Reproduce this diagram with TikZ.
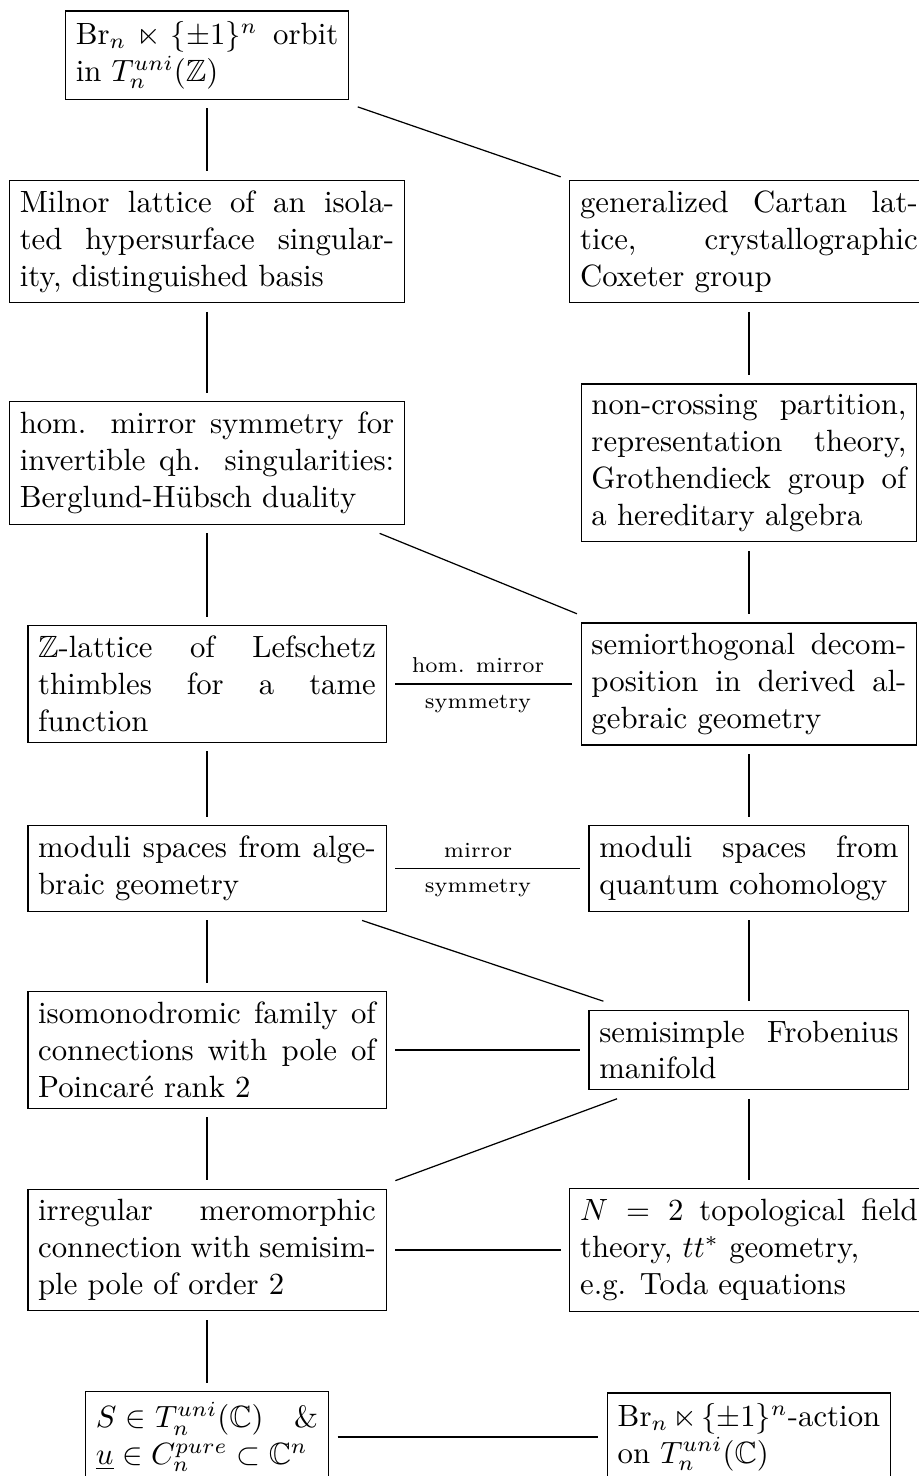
\documentclass[tikz,border=0pt]{standalone}
\usepackage{amsmath}
\usepackage{amssymb}
\usepackage{tikz}
\usetikzlibrary{calc}

\begin{document}
\begin{tikzpicture}[box/.style={draw, align=justify, outer sep=3pt, text width=#1},
	lbl/.style={font=\scriptsize}]
\useasboundingbox (0,0) rectangle (10.503,-16.869);

\node[box=3cm] (orbit) at (2.366,-0.629) {$\mathrm{Br}_n\ltimes\{\pm 1\}^n$ orbit\linebreak in $T_n^{uni}(\mathbb{Z})$};

\node[box=4.28cm] (milnor) at (2.366,-2.76) {Milnor lattice of an isola-\linebreak ted hypersurface singular-\linebreak ity, distinguished basis};
\node[box=3.86cm] (cartan) at (8.56,-2.76) {generalized Cartan lat-\linebreak tice, crystallographic\linebreak Coxeter group};

\node[box=4.28cm] (hms) at (2.366,-5.291) {hom. mirror symmetry for\linebreak invertible qh. singularities:\linebreak Berglund-H\"ubsch duality};
\node[box=3.6cm] (noncross) at (8.56,-5.291) {non-crossing partition,\linebreak representation theory,\linebreak Grothendieck group of\linebreak a hereditary algebra};

\node[box=3.86cm] (lefschetz) at (2.366,-7.817) {$\mathbb{Z}$-lattice of Lefschetz\linebreak thimbles for a tame\linebreak function};
\node[box=3.6cm] (semiorth) at (8.56,-7.817) {semiorthogonal decom-\linebreak position in derived al-\linebreak gebraic geometry};

\node[box=3.86cm] (modalg) at (2.366,-9.926) {moduli spaces from alge-\linebreak braic geometry};
\node[box=3.42cm] (modqc) at (8.56,-9.926) {moduli spaces from\linebreak quantum cohomology};

\node[box=3.86cm] (isomon) at (2.366,-12) {isomonodromic family of\linebreak connections with pole of\linebreak Poincar\'e rank 2};
\node[box=3.42cm] (frob) at (8.56,-12) {semisimple Frobenius\linebreak manifold};

\node[box=3.86cm] (irreg) at (2.366,-14.286) {irregular meromorphic\linebreak connection with semisim-\linebreak ple pole of order 2};
\node[box=3.86cm] (tt) at (8.56,-14.286) {$N=2$ topological field\linebreak theory, $tt^*$ geometry,\newline e.g. Toda equations};

\node[box=2.54cm] (stokes) at (2.366,-16.423) {$S\in T_n^{uni}(\mathbb{C})$\quad \&\linebreak $\underline{u}\in C_n^{pure}\subset\mathbb{C}^n$};
\node[box=3cm] (action) at (8.56,-16.423) {$\mathrm{Br}_n\ltimes\{\pm 1\}^n$-action\newline on $T_n^{uni}(\mathbb{C})$};

\draw (orbit) -- (milnor);
\draw (orbit) -- (cartan);
\draw (milnor) -- (hms);
\draw (cartan) -- (noncross);
\draw (hms) -- (lefschetz);
\draw (hms) -- (semiorth);
\draw (noncross) -- (semiorth);
\draw (lefschetz) -- (modalg);
\draw (semiorth) -- (modqc);
\draw (lefschetz) -- (semiorth);
\draw (modalg) -- (modqc);
\draw (modalg) -- (isomon);
\draw (modalg) -- (frob);
\draw (modqc) -- (frob);
\draw (isomon) -- (frob);
\draw (isomon) -- (irreg);
\draw (frob) -- (irreg);
\draw (frob) -- (tt);
\draw (irreg) -- (tt);
\draw (irreg) -- (stokes);
\draw (stokes) -- (action);

\node[lbl, above] (hmsup) at ($(lefschetz)!0.5!(semiorth)$) {hom. mirror};
\node[lbl, below] (hmsdown) at ($(lefschetz)!0.5!(semiorth)$) {symmetry};
\node[lbl, above] (msup) at ($(modalg)!0.5!(modqc)$) {mirror};
\node[lbl, below] (msdown) at ($(modalg)!0.5!(modqc)$) {symmetry};
\end{tikzpicture}
\end{document}
